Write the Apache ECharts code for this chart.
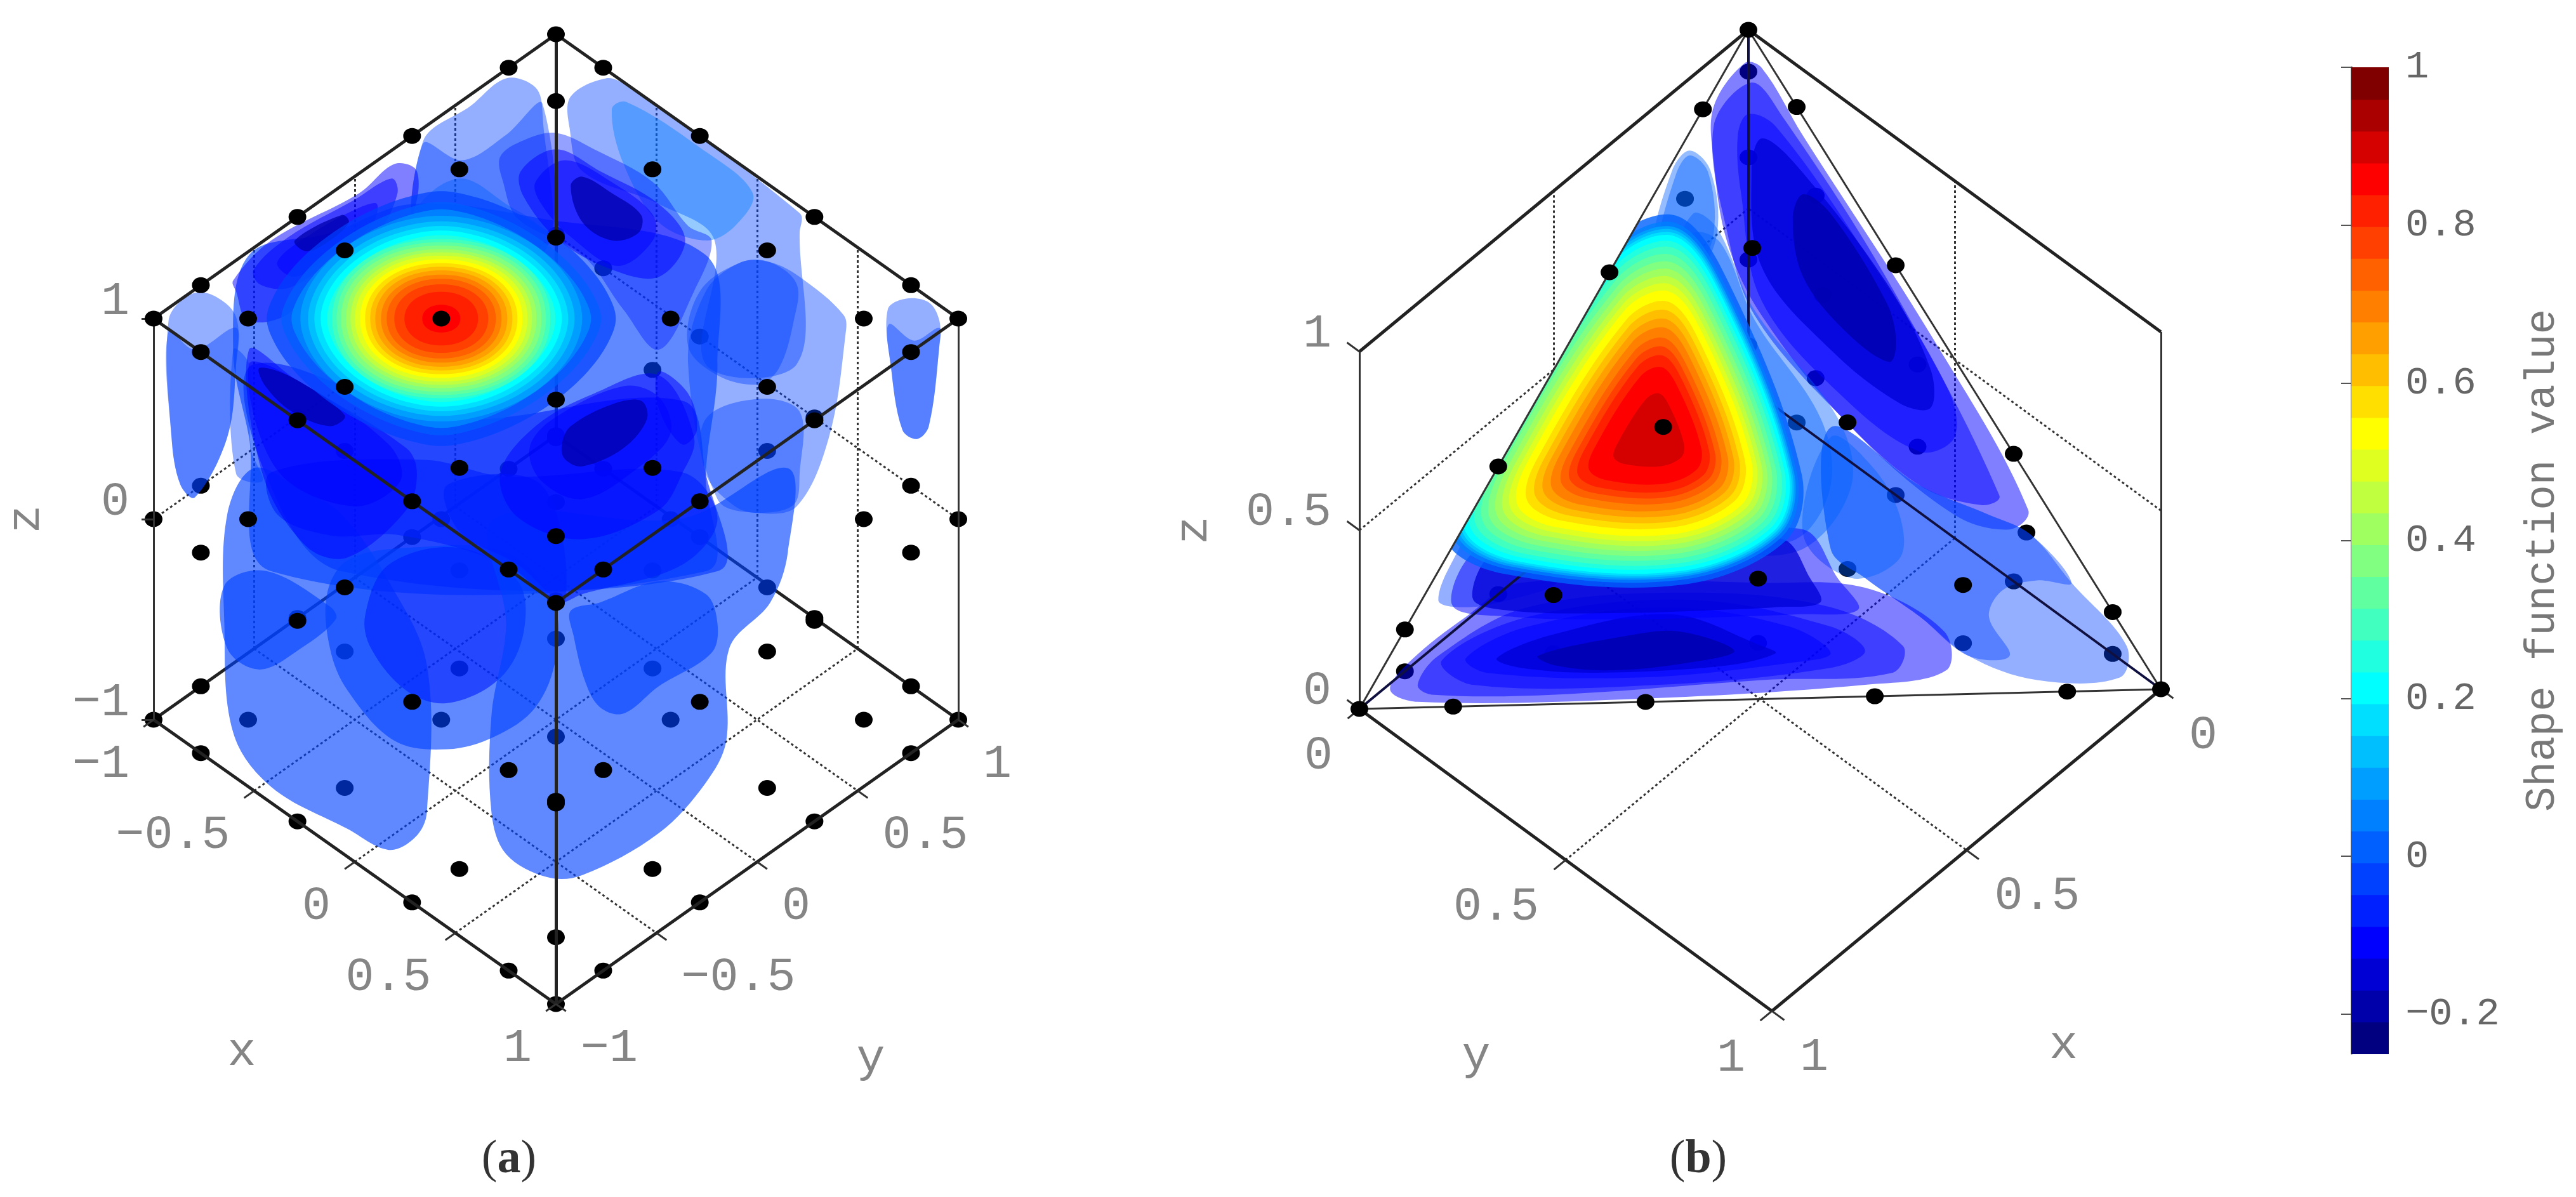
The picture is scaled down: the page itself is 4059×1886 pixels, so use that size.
<!DOCTYPE html>
<html>
<head>
<meta charset="utf-8">
<title>Shape function value</title>
<style>
html, body { margin: 0; background: #fff; }
#main { width: 4059px; height: 1886px; }
</style>
<script src="https://cdn.jsdelivr.net/npm/echarts@6/dist/echarts.min.js"></script>
</head>
<body>
<div id="main"></div>
<script>
// --- data ----------------------------------------------------------------

// nodes of panel a: tensor grid in x,y on three z levels
var gllPoints = [-1, -0.765, -0.285, 0.285, 0.765, 1];
var zLevelsA = [1, 0, -1];
// below z = 1 these nodes sit on top of the lobes, all others are tinted by them
var frontNodesA = [[-0.765, -0.765, 0], [0.765, -1, 0], [0.285, -1, 0], [1, -0.765, 0], [1, -0.285, 0],
	[1, -1, 0], [-0.285, -0.765, 0], [-0.285, -1, 0], [0.285, -0.285, -1]];

// nodes of panel b: barycentric weights on the tetrahedron edges and faces
var edgeFractions = [0.117, 0.357, 0.643, 0.883];
var faceWeights = [[0.674, 0.163, 0.163], [0.163, 0.674, 0.163], [0.163, 0.163, 0.674],
	[0.41, 0.41, 0.18], [0.41, 0.18, 0.41], [0.18, 0.41, 0.41]];

// axis ticks
var xTicksA = [-1, -0.5, 0, 0.5, 1];
var yTicksA = [-1, -0.5, 0, 0.5, 1];
var zTicksA = [-1, 0, 1];
var xTicksB = [0, 0.5, 1];
var yTicksB = [0, 0.5, 1];
var zTicksB = [0, 0.5, 1];
var colorbarTicks = [-0.2, 0, 0.2, 0.4, 0.6, 0.8, 1];

// the 31 bands of the colorbar, lowest first
var bandColors = ['#000080', '#0000aa', '#0000d5', '#0000ff', '#0020ff', '#0040ff', '#0060ff', '#0080ff',
	'#009fff', '#00bfff', '#00dfff', '#00ffff', '#20ffdf', '#40ffbf', '#60ff9f', '#80ff80',
	'#9fff60', '#bfff40', '#dfff20', '#ffff00', '#ffdf00', '#ffbf00', '#ff9f00', '#ff8000',
	'#ff6000', '#ff4000', '#ff2000', '#ff0000', '#d50000', '#aa0000', '#800000'];

// peak of panel a: band number and half width of its contour
var hotBandsA = [5, 6, 7, 8, 9, 10, 11, 12, 13, 14, 15, 16, 17, 18, 19, 20, 21, 22, 23, 24, 25, 26, 27];
var hotRadiiA = [275, 252, 236, 222, 210, 200, 190, 180, 172, 165, 158, 150, 143, 136, 128, 120, 112, 104, 95, 86, 74, 58, 30];

// peak of panel b: band number and size of its contour against the yellow one
var hotBandsB = [6, 7, 8, 9, 10, 11, 12, 13, 14, 15, 16, 17, 18, 19, 20, 21, 22, 23, 24, 25, 26, 27, 28];
var hotScalesB = [1.52, 1.47, 1.44, 1.42, 1.4, 1.38, 1.34, 1.3, 1.25, 1.2, 1.15, 1.1, 1.05, 1, 0.93, 0.87, 0.81, 0.75, 0.68, 0.62, 0.56, 0.48, 0.3];
var hotOutlineB = [[765, 600], [815, 690], [885, 950], [870, 1040], [770, 1100], [600, 1085], [545, 1040], [560, 950], [700, 640]];

// iso-lobes: [band, outline]
// panel a, the wide masses under everything else
var massesA1 = [
	[5, [[262, 700], [400, 640], [540, 560], [760, 600], [1040, 700], [1060, 1000], [1040, 1300], [1040, 1568], [300, 1568], [262, 1200], [235, 960]]],
	[4, [[270, 1000], [600, 1150], [1000, 1100], [1040, 1300], [1060, 1568], [420, 1568], [290, 1300]]]
];

// panel a, upper part
var lobesA1 = [
	[5, [[700, 215], [750, 240], [762, 310], [762, 700], [558, 700], [558, 390], [640, 290]]],
	[5, [[558, 395], [625, 440], [700, 370], [762, 285], [762, 700], [558, 700]]],
	[6, [[545, 580], [620, 490], [700, 560], [760, 640], [700, 820], [500, 820]]],
	[5, [[870, 215], [905, 235], [1200, 585], [1200, 640], [1195, 1000], [1040, 1000], [1055, 660], [960, 560], [830, 470], [808, 350], [810, 265]]],
	[7, [[880, 300], [905, 280], [1030, 405], [1120, 530], [1090, 620], [1040, 660], [960, 610], [900, 450]]],
	[4, [[690, 430], [730, 385], [785, 365], [850, 410], [950, 500], [1010, 620], [1050, 660], [1020, 800], [960, 960], [900, 850], [830, 700], [720, 600], [695, 500]]],
	[3, [[725, 470], [785, 410], [860, 470], [960, 560], [1005, 660], [960, 760], [880, 740], [790, 660], [730, 540]]],
	[3, [[750, 500], [800, 440], [880, 500], [950, 590], [950, 660], [890, 730], [810, 650], [760, 560]]],
	[1, [[810, 510], [830, 485], [880, 530], [930, 590], [925, 640], [880, 660], [830, 610]]],
	[3, [[235, 770], [300, 660], [450, 530], [510, 450], [548, 470], [540, 590], [500, 650], [420, 700], [330, 860], [260, 880], [240, 800]]],
	[3, [[270, 740], [330, 650], [440, 550], [505, 490], [515, 530], [480, 640], [400, 720], [330, 790], [280, 780]]],
	[3, [[310, 720], [370, 640], [450, 570], [480, 560], [470, 620], [400, 700], [340, 760]]],
	[1, [[340, 660], [420, 590], [432, 610], [400, 660], [360, 690]]],
	[5, [[235, 960], [262, 1000], [265, 1230], [285, 1320], [240, 1300]]],
	[3, [[262, 960], [340, 1040], [530, 1230], [548, 1300], [530, 1400], [430, 1530], [360, 1500], [285, 1300]]],
	[3, [[262, 1000], [340, 1040], [500, 1220], [520, 1320], [440, 1390], [310, 1290]]],
	[1, [[280, 1010], [340, 1040], [425, 1140], [400, 1170], [335, 1130], [290, 1060]]],
	[5, [[125, 880], [160, 810], [200, 810], [240, 870], [240, 1000], [225, 1200], [170, 1365], [145, 1330], [130, 1200]]],
	[5, [[125, 910], [170, 960], [240, 900], [240, 1000], [225, 1200], [170, 1365], [145, 1330], [130, 1200]]],
	[5, [[1350, 850], [1380, 820], [1420, 830], [1438, 880], [1438, 950], [1420, 1170], [1400, 1205], [1375, 1180], [1355, 1000]]],
	[5, [[1352, 890], [1395, 935], [1438, 900], [1438, 950], [1420, 1170], [1400, 1205], [1375, 1180], [1355, 1000]]],
	[5, [[1200, 760], [1275, 865], [1278, 920], [1250, 1200], [1195, 1390], [1130, 1408], [1060, 1370], [1010, 1000], [1040, 800], [1100, 720], [1150, 720]]],
	[5, [[1030, 800], [1100, 720], [1150, 720], [1195, 780], [1190, 880], [1165, 1010], [1130, 1055], [1060, 1030], [1010, 950]]],
	[5, [[1040, 1150], [1130, 1095], [1200, 1130], [1200, 1300], [1190, 1385], [1130, 1408], [1090, 1390], [1040, 1300]]],
	[3, [[690, 1300], [750, 1170], [850, 1080], [960, 1030], [1020, 1200], [1000, 1300], [960, 1400], [830, 1480], [720, 1420]]],
	[3, [[740, 1230], [780, 1150], [900, 1060], [960, 1090], [980, 1190], [920, 1290], [830, 1370], [760, 1320]]],
	[1, [[795, 1220], [810, 1170], [880, 1110], [930, 1100], [940, 1150], [900, 1230], [830, 1280], [800, 1260]]],
	[3, [[960, 1020], [1010, 1080], [1025, 1180], [1000, 1220], [960, 1120]]]
];

// panel a, lower part
var lobesA2 = [
	[5, [[270, -170], [350, -120], [420, -60], [500, 100], [565, 300], [565, 650], [545, 710], [500, 740], [430, 690], [300, 590], [235, 460], [220, 200], [225, -60]]],
	[5, [[220, 110], [290, 75], [400, 160], [410, 190], [350, 260], [280, 310], [225, 260]]],
	[5, [[395, 130], [430, 50], [530, 20], [700, 30], [780, 150], [785, 280], [750, 400], [680, 470], [600, 500], [510, 480], [430, 360], [400, 260]]],
	[4, [[460, 180], [500, 60], [620, 20], [720, 100], [730, 220], [690, 330], [600, 390], [530, 360], [470, 260]]],
	[5, [[680, -50], [1000, -50], [1180, -170], [1180, 30], [1150, 150], [1080, 260], [1075, 480], [1040, 580], [960, 700], [830, 800], [770, 805], [700, 750], [675, 650], [675, 420], [700, 200]]],
	[5, [[810, 170], [860, 150], [960, 100], [1040, 130], [1060, 200], [1050, 270], [960, 350], [900, 415], [860, 400], [835, 340], [815, 230]]],
	[4, [[300, -160], [560, -190], [700, -150], [1000, -160], [1060, -50], [1000, 60], [830, 130], [785, 150], [700, 60], [520, -10], [400, -10], [310, -60]]],
	[4, [[600, -130], [760, -130], [800, 150], [720, 60], [620, -20]]]
];

// panel b
var lobesB = [
	[3, [[875, 130], [900, 140], [960, 280], [1150, 700], [1287, 1050], [1260, 1090], [1180, 1060], [1030, 880], [900, 650], [850, 500], [830, 330], [830, 220]]],
	[3, [[885, 170], [930, 240], [1080, 570], [1245, 1020], [1220, 1040], [1130, 1000], [1010, 850], [890, 650], [850, 480], [830, 260]]],
	[3, [[880, 235], [920, 260], [1050, 520], [1170, 800], [1180, 900], [1130, 930], [1020, 820], [900, 620], [870, 400], [865, 280]]],
	[2, [[900, 285], [950, 340], [1080, 580], [1145, 760], [1145, 840], [1100, 830], [1000, 720], [900, 550], [885, 350]]],
	[1, [[960, 400], [1000, 440], [1080, 620], [1095, 700], [1085, 745], [1020, 680], [960, 570], [945, 450]]],
	[5, [[1000, 880], [1130, 1000], [1230, 1060], [1290, 1100], [1350, 1200], [1430, 1330], [1420, 1395], [1300, 1400], [1200, 1350], [1130, 1270], [1050, 1190], [1000, 1130]]],
	[5, [[1000, 880], [1130, 1000], [1230, 1060], [1290, 1100], [1350, 1200], [1300, 1195], [1250, 1215], [1230, 1270], [1260, 1350], [1200, 1350], [1130, 1270], [1050, 1190], [1000, 1130]]],
	[6, [[960, 1100], [1030, 1190], [1100, 1150], [1100, 1060], [1060, 960], [1000, 900]]],
	[6, [[795, 310], [825, 350], [835, 480], [800, 580], [760, 600], [740, 520], [770, 350]]],
	[6, [[795, 320], [822, 355], [830, 480], [800, 570], [765, 590], [748, 520], [775, 360]]],
	[5, [[430, 1235], [460, 1130], [490, 1070], [600, 1100], [610, 1190], [520, 1240], [460, 1250]]],
	[6, [[800, 440], [835, 470], [890, 640], [1010, 860], [1030, 1000], [960, 1130], [860, 1120], [860, 900], [800, 700], [770, 560]]],
	[6, [[800, 480], [840, 500], [890, 660], [985, 860], [1000, 1000], [950, 1110], [860, 1100], [860, 900], [800, 700], [780, 560]]],
	[3, [[360, 1420], [390, 1360], [470, 1270], [550, 1200], [900, 1200], [1050, 1210], [1165, 1300], [1168, 1380], [1050, 1410], [700, 1440], [400, 1445]]],
	[3, [[400, 1410], [430, 1350], [560, 1250], [800, 1220], [1000, 1250], [1105, 1330], [1090, 1385], [900, 1400], [600, 1430], [420, 1430]]],
	[3, [[435, 1360], [560, 1270], [800, 1235], [1000, 1290], [1050, 1340], [1000, 1375], [750, 1410], [480, 1410]]],
	[3, [[470, 1355], [560, 1290], [760, 1250], [940, 1290], [1000, 1345], [940, 1365], [720, 1395], [500, 1385]]],
	[2, [[515, 1355], [600, 1305], [770, 1265], [900, 1330], [920, 1345], [850, 1370], [660, 1385], [550, 1375]]],
	[1, [[575, 1350], [700, 1310], [780, 1300], [860, 1340], [790, 1365], [680, 1380], [600, 1370]]],
	[3, [[450, 1245], [500, 1120], [800, 1120], [960, 1090], [1010, 1190], [1040, 1255], [950, 1265], [850, 1270], [700, 1275], [540, 1270]]],
	[2, [[480, 1232], [520, 1130], [800, 1130], [930, 1110], [970, 1190], [985, 1240], [920, 1250], [850, 1255], [700, 1262], [540, 1258]]]
];

// --- projections ---------------------------------------------------------

function projectA(x, y, z) {
	return [876 + (x + y) / 2 * 634, 502 + (x - y) / 2 * 448 + (1 - z) * 316];
}

function projectB(x, y, z) {
	return [2755 - 613 * x + 650 * y, 610 + 507 * x + 476 * y - 563 * z];
}

// zoomed crops the outlines were read from, back to page pixels
function fromCropA1(p) { return [150 + p[0] * 0.925, p[1] * 0.574]; }
function fromCropA2(p) { return [150 + p[0] * 0.925, 850 + p[1] * 0.661]; }
function fromCropB(p) { return [1800 + p[0] * 1.0846, p[1] * 0.7653]; }

function seg(project, a, b) {
	return { coords: [project(a[0], a[1], a[2]), project(b[0], b[1], b[2])] };
}

// --- nodes ---------------------------------------------------------------

var nodesBack = [];
var nodesFront = [];

zLevelsA.forEach(function (z) {
	gllPoints.forEach(function (x) {
		gllPoints.forEach(function (y) {
			var front = z === 1 || frontNodesA.some(function (n) {
				return n[0] === x && n[1] === y && n[2] === z;
			});
			(front ? nodesFront : nodesBack).push(projectA(x, y, z));
		});
	});
});

var vertK = [0, 0, 0], vertL = [1, 0, 0], vertR = [0, 1, 0], vertA = [0, 0, 1];

function mix(verts, weights) {
	var p = [0, 0, 0];
	verts.forEach(function (v, i) {
		p[0] += v[0] * weights[i];
		p[1] += v[1] * weights[i];
		p[2] += v[2] * weights[i];
	});
	return p;
}

function addNodeB(p) {
	var front = Math.abs(p[0] + p[1] + p[2] - 1) < 0.001;
	(front ? nodesFront : nodesBack).push(projectB(p[0], p[1], p[2]));
}

[vertK, vertL, vertR, vertA].forEach(addNodeB);
[[vertK, vertL], [vertK, vertR], [vertK, vertA], [vertL, vertR], [vertL, vertA], [vertR, vertA]].forEach(function (e) {
	edgeFractions.forEach(function (f) {
		addNodeB(mix(e, [1 - f, f]));
	});
});
[[vertA, vertL, vertR], [vertA, vertK, vertR], [vertA, vertK, vertL], [vertK, vertL, vertR]].forEach(function (face) {
	faceWeights.forEach(function (w) {
		addNodeB(mix(face, w));
	});
});

// --- axis frames ---------------------------------------------------------

var dottedLines = [];
var backLines = [];
var midLines = [];
var frontThick = [];
var frontThin = [];

xTicksA.forEach(function (t) {
	if (Math.abs(t) === 1) return;
	dottedLines.push(seg(projectA, [t, -1, -1], [t, 1, -1]));
	dottedLines.push(seg(projectA, [-1, t, -1], [1, t, -1]));
	dottedLines.push(seg(projectA, [t, 1, -1], [t, 1, 1]));
	dottedLines.push(seg(projectA, [-1, t, -1], [-1, t, 1]));
});
dottedLines.push(seg(projectA, [-1, -1, 0], [-1, 1, 0]));
dottedLines.push(seg(projectA, [-1, 1, 0], [1, 1, 0]));

backLines.push(seg(projectA, [-1, -1, -1], [-1, 1, -1]));
backLines.push(seg(projectA, [-1, 1, -1], [1, 1, -1]));
backLines.push(seg(projectA, [-1, 1, 1], [-1, 1, -1]));

frontThick.push(seg(projectA, [-1, 1, 1], [-1, -1, 1]));
frontThick.push(seg(projectA, [-1, -1, 1], [1, -1, 1]));
frontThick.push(seg(projectA, [1, -1, 1], [1, 1, 1]));
frontThick.push(seg(projectA, [1, 1, 1], [-1, 1, 1]));
frontThick.push(seg(projectA, [-1, -1, -1], [1, -1, -1]));
frontThick.push(seg(projectA, [1, -1, -1], [1, 1, -1]));
frontThick.push(seg(projectA, [1, -1, 1], [1, -1, -1]));
frontThick.push(seg(projectA, [-1, 1, 1], [-1, 1, 0]));
frontThin.push(seg(projectA, [-1, -1, 1], [-1, -1, -1]));
frontThin.push(seg(projectA, [1, 1, 1], [1, 1, -1]));

xTicksA.forEach(function (t) {
	frontThin.push(seg(projectA, [t, -1, -1], [t, -1.05, -1]));
	frontThin.push(seg(projectA, [1, t, -1], [1.05, t, -1]));
});
zTicksA.forEach(function (t) {
	frontThin.push(seg(projectA, [-1, -1, t], [-1.03, -1.03, t]));
});

// panel b: floor and wall grid at 0.5
dottedLines.push(seg(projectB, [0, 0.5, 0], [1, 0.5, 0]));
dottedLines.push(seg(projectB, [0.5, 0, 0], [0.5, 1, 0]));
dottedLines.push(seg(projectB, [0.5, 0, 0], [0.5, 0, 1]));
dottedLines.push(seg(projectB, [0, 0.5, 0], [0, 0.5, 1]));
dottedLines.push(seg(projectB, [1, 0, 0.5], [0, 0, 0.5]));
dottedLines.push(seg(projectB, [0, 1, 0.5], [0, 0, 0.5]));

midLines.push(seg(projectB, vertA, vertK));
midLines.push(seg(projectB, vertK, vertL));
midLines.push(seg(projectB, vertK, vertR));

frontThick.push(seg(projectB, [0, 0, 1], [1, 0, 1]));
frontThick.push(seg(projectB, [0, 0, 1], [0, 1, 1]));
frontThick.push(seg(projectB, [1, 0, 0], [1, 1, 0]));
frontThick.push(seg(projectB, [0, 1, 0], [1, 1, 0]));
frontThin.push(seg(projectB, [1, 0, 1], [1, 0, 0]));
frontThin.push(seg(projectB, [0, 1, 1], [0, 1, 0]));
frontThin.push(seg(projectB, vertA, vertL));
frontThin.push(seg(projectB, vertA, vertR));
frontThin.push(seg(projectB, vertL, vertR));

xTicksB.forEach(function (t) {
	frontThin.push(seg(projectB, [t, 1, 0], [t, 1.03, 0]));
});
yTicksB.forEach(function (t) {
	frontThin.push(seg(projectB, [1, t, 0], [1.03, t, 0]));
});
zTicksB.forEach(function (t) {
	frontThin.push(seg(projectB, [1, 0, t], [1, -0.03, t]));
});

function linesSeries(name, data, color, width, type, z) {
	return {
		name: name,
		type: 'lines',
		coordinateSystem: 'cartesian2d',
		xAxisIndex: 0,
		yAxisIndex: 0,
		silent: true,
		z: z,
		data: data,
		lineStyle: { color: color, width: width, type: type, opacity: 1 }
	};
}

// --- lobes and peaks -----------------------------------------------------

function bandAlpha(band, base) {
	return band <= 2 ? 0.75 : (band === 3 ? 0.5 : base);
}

function polygonSeries(name, shapes, z) {
	return {
		name: name,
		type: 'custom',
		coordinateSystem: 'cartesian2d',
		xAxisIndex: 0,
		yAxisIndex: 0,
		silent: true,
		z: z,
		data: shapes.map(function (s, i) { return i; }),
		renderItem: function (params, api) {
			var s = shapes[params.dataIndex];
			var el = {
				type: 'polygon',
				shape: { points: s.points.map(function (p) { return api.coord(p); }), smooth: 0.35 },
				style: { fill: s.color, opacity: s.opacity, stroke: null }
			};
			if (s.clip) {
				el.clipPath = { type: 'polygon', shape: { points: s.clip.map(function (p) { return api.coord(p); }) } };
			}
			return el;
		}
	};
}

function lobeShapes(list, convert, base) {
	return list.map(function (l) {
		return { color: bandColors[l[0]], opacity: bandAlpha(l[0], base), points: l[1].map(convert) };
	});
}

var lobeShapesAll = lobeShapes(massesA1, fromCropA1, 0.62)
	.concat(lobeShapes(lobesA2, fromCropA2, 0.62))
	.concat(lobeShapes(lobesA1, fromCropA1, 0.42))
	.concat(lobeShapes(lobesB, fromCropB, 0.42));

var hotShapes = [];
var centerA = projectA(-0.285, -0.285, 1);

hotBandsA.forEach(function (band, i) {
	var r = hotRadiiA[i];
	var power = r > 230 ? 1.6 : (r > 175 ? 1.85 : 2.1); // outer contours go towards a diamond
	var pts = [];
	for (var k = 0; k < 28; k++) {
		var t = k / 28 * Math.PI * 2;
		var c = Math.cos(t), s = Math.sin(t);
		pts.push([
			centerA[0] + r * (c < 0 ? -1 : 1) * Math.pow(Math.abs(c), 2 / power),
			centerA[1] + r / 1.37 * (s < 0 ? -1 : 1) * Math.pow(Math.abs(s), 2 / power)
		]);
	}
	hotShapes.push({ color: bandColors[band], opacity: band <= 6 ? 0.7 : 1, points: pts });
});

var faceB = [vertA, vertL, vertR].map(function (v) { return projectB(v[0], v[1], v[2]); });
var centerB = fromCropB([745, 900]);

hotBandsB.forEach(function (band, i) {
	var pts = hotOutlineB.map(function (p) {
		var q = fromCropB(p);
		return [centerB[0] + (q[0] - centerB[0]) * hotScalesB[i], centerB[1] + (q[1] - centerB[1]) * hotScalesB[i]];
	});
	hotShapes.push({ color: bandColors[band], opacity: band <= 7 ? 0.8 : 1, points: pts, clip: faceB });
});

// --- texts ---------------------------------------------------------------

var labelFont = '"Liberation Mono", "DejaVu Sans Mono", monospace';

function tickText(v) {
	return String(v).replace('-', '\u2212');
}

function textItem(text, pos, dx, dy, align, rotate) {
	return {
		name: text,
		value: [pos[0] + dx, pos[1] + dy],
		label: { align: align, rotate: rotate || 0 }
	};
}

var textItems = [];

zTicksA.forEach(function (t) {
	textItems.push(textItem(tickText(t), projectA(-1, -1, t), -38, -27, 'right'));
});
xTicksA.forEach(function (t) {
	textItems.push(textItem(tickText(t), projectA(t, -1, -1), -38, 70, 'right'));
});
yTicksA.forEach(function (t) {
	textItems.push(textItem(tickText(t), projectA(1, t, -1), 39, 70, 'left'));
});
textItems.push(textItem('z', projectA(-1, -1, 0), -201, 0, 'center', 90));
textItems.push(textItem('x', projectA(0, -1, -1), -178, 300, 'center'));
textItems.push(textItem('y', projectA(1, 0, -1), 179, 310, 'center'));

zTicksB.forEach(function (t) {
	textItems.push(textItem(tickText(t), projectB(1, 0, t), -44, -28, 'right'));
});
yTicksB.forEach(function (t) {
	textItems.push(textItem(tickText(t), projectB(1, t, 0), -42, 74, 'right'));
});
xTicksB.forEach(function (t) {
	textItems.push(textItem(tickText(t), projectB(t, 1, 0), 44, 73, 'left'));
});
textItems.push(textItem('z', projectB(1, 0, 0.5), -261, 0, 'center', 90));
textItems.push(textItem('y', projectB(1, 0.5, 0), -141, 309, 'center'));
textItems.push(textItem('x', projectB(0.5, 1, 0), 153, 308, 'center'));

var captionItems = [
	{ name: 'a', value: [802, 1828] },
	{ name: 'b', value: [2676, 1828] }
];

// --- chart ---------------------------------------------------------------

var chart = echarts.init(document.getElementById('main'));

var band = 1.25 / bandColors.length;

chart.setOption({
	animation: false,
	backgroundColor: '#ffffff',
	grid: [
		{ left: 0, top: 0, width: 4059, height: 1886 },
		{ left: 3705, top: 106, width: 59, height: 1554 }
	],
	xAxis: [
		{ type: 'value', min: 0, max: 4059, show: false, gridIndex: 0 },
		{ type: 'value', min: 0, max: 1, show: false, gridIndex: 1 }
	],
	yAxis: [
		{ type: 'value', min: 0, max: 1886, inverse: true, show: false, gridIndex: 0 },
		{
			type: 'value',
			min: -0.25,
			max: 1,
			gridIndex: 1,
			position: 'right',
			splitLine: { show: false },
			axisLine: { show: true, lineStyle: { color: '#555555', width: 3 } },
			axisTick: { show: true, inside: true, length: 16, customValues: colorbarTicks, lineStyle: { color: '#555555', width: 2 } },
			axisLabel: {
				margin: 26,
				customValues: colorbarTicks,
				fontFamily: labelFont,
				fontSize: 62,
				color: '#666666',
				formatter: function (v) { return tickText(Math.round(v * 10) / 10); }
			},
			name: 'Shape function value',
			nameLocation: 'middle',
			nameRotate: 90,
			nameGap: 210,
			nameTextStyle: { fontFamily: labelFont, fontSize: 66, color: '#777777' }
		}
	],
	series: [
		linesSeries('wall grid', dottedLines, '#333333', 3, [4, 4], 1),
		linesSeries('back edges', backLines, '#222222', 5, 'solid', 1),
		{
			name: 'nodes behind',
			type: 'scatter',
			xAxisIndex: 0,
			yAxisIndex: 0,
			silent: true,
			z: 2,
			symbol: 'circle',
			symbolSize: [28, 25],
			itemStyle: { color: '#000000', opacity: 1 },
			data: nodesBack
		},
		polygonSeries('lobes', lobeShapesAll, 3),
		linesSeries('tetrahedron back edges', midLines, '#101040', 4, 'solid', 4),
		polygonSeries('peaks', hotShapes, 5),
		linesSeries('frame', frontThick, '#222222', 5, 'solid', 6),
		linesSeries('frame thin', frontThin, '#333333', 3, 'solid', 6),
		{
			name: 'nodes',
			type: 'scatter',
			xAxisIndex: 0,
			yAxisIndex: 0,
			silent: true,
			z: 7,
			symbol: 'circle',
			symbolSize: [28, 25],
			itemStyle: { color: '#000000', opacity: 1 },
			data: nodesFront
		},
		{
			name: 'axis labels',
			type: 'scatter',
			xAxisIndex: 0,
			yAxisIndex: 0,
			silent: true,
			z: 8,
			symbolSize: 1,
			itemStyle: { color: 'transparent' },
			label: {
				show: true,
				position: 'inside',
				verticalAlign: 'middle',
				formatter: '{b}',
				fontFamily: labelFont,
				fontSize: 75,
				color: '#666666'
			},
			data: textItems
		},
		{
			name: 'captions',
			type: 'scatter',
			xAxisIndex: 0,
			yAxisIndex: 0,
			silent: true,
			z: 8,
			symbolSize: 1,
			itemStyle: { color: 'transparent' },
			label: {
				show: true,
				position: 'inside',
				align: 'center',
				verticalAlign: 'middle',
				formatter: function (p) { return '{p|(}{b|' + p.name + '}{p|)}'; },
				rich: {
					p: { fontFamily: '"Liberation Serif", serif', fontSize: 74, color: '#000000' },
					b: { fontFamily: '"Liberation Serif", serif', fontSize: 74, fontWeight: 'bold', color: '#000000' }
				}
			},
			data: captionItems
		},
		{
			name: 'colorbar',
			type: 'custom',
			coordinateSystem: 'cartesian2d',
			xAxisIndex: 1,
			yAxisIndex: 1,
			silent: true,
			z: 1,
			data: bandColors.map(function (c, i) { return i; }),
			renderItem: function (params, api) {
				var i = params.dataIndex;
				var p0 = api.coord([0, -0.25 + (i + 1) * band]);
				var p1 = api.coord([1, -0.25 + i * band]);
				return {
					type: 'rect',
					shape: { x: p0[0], y: p0[1], width: p1[0] - p0[0], height: p1[1] - p0[1] + 1 },
					style: { fill: bandColors[i] }
				};
			}
		}
	]
});
</script>
</body>
</html>
